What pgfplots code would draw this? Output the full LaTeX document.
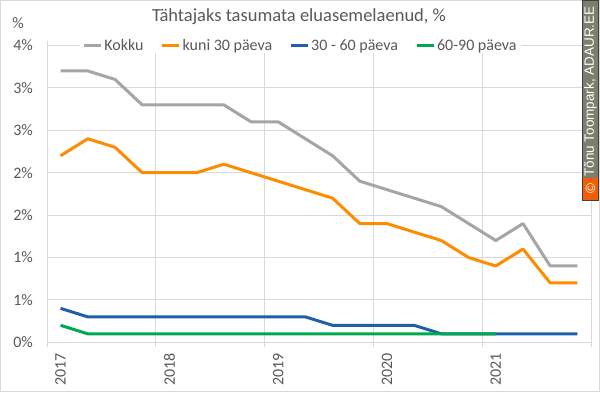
\documentclass[border=0pt]{standalone}
\usepackage{pgfplots}
\pgfplotsset{compat=1.18}
\usepackage{fontspec}
\setmainfont{Carlito}
\newfontfamily\wmfont{Liberation Sans}
\definecolor{txt}{HTML}{595959}
\definecolor{gridc}{HTML}{D9D9D9}
\definecolor{cgrey}{HTML}{A5A5A5}
\definecolor{corange}{HTML}{FF8C00}
\definecolor{cblue}{HTML}{1F5FAA}
\definecolor{cgreen}{HTML}{00A94F}
\definecolor{wmgrey}{HTML}{7E7E6E}
\definecolor{wmorange}{HTML}{F25C05}
\begin{document}
\begin{tikzpicture}[x=1pt,y=1pt]
\useasboundingbox (0,0) rectangle (600,392);
\fill[white] (0,0) rectangle (600,392);
\draw[gridc, line width=1pt] (0.5,0.5) rectangle (599.5,391.5);
\begin{axis}[
  at={(47pt,49.7pt)}, anchor=south west,
  scale only axis, width=544pt, height=296.8pt,
  xmin=-0.5, xmax=19.5, ymin=0, ymax=3.5,
  axis line style={draw=none},
  xtick={0,4,8,12,16},
  xticklabels={2017,2018,2019,2020,2021},
  minor xtick={-0.5,3.5,7.5,11.5,15.5,19.5},
  xminorgrids=true,
  minor grid style={gridc, line width=1pt},
  ytick={0,0.5,1,1.5,2,2.5,3,3.5},
  yticklabels={0\%,1\%,1\%,2\%,2\%,3\%,3\%,4\%},
  ymajorgrids=true,
  major grid style={gridc, line width=1pt},
  major tick length=0pt,
  minor tick length=5pt,
  tick align=outside,
  minor tick style={gridc, line width=1pt},
  major tick style={draw=none},
  ticklabel style={font=\fontsize{16}{18}\selectfont, text=txt},
  yticklabel style={anchor=east, inner sep=0pt, xshift=-14pt},
  xticklabel style={yshift=-11pt, rotate=90, anchor=east, inner sep=0pt},
  legend columns=4,
  legend style={at={(0.466,1)}, anchor=center, draw=none, fill=white,
    font=\fontsize{16}{18}\selectfont, text=txt,
    inner xsep=2pt, inner ysep=0pt,
    /tikz/every odd column/.style={column sep=0pt},
    /tikz/every even column/.append style={column sep=15pt},
    nodes={inner xsep=2pt, inner ysep=1pt}},
  legend image code/.code={\draw[#1] (0pt,0pt) -- (17pt,0pt);},
  every axis plot/.append style={line width=3pt, line join=round},
]
\addplot[cgrey] coordinates {(0,3.2)(1,3.2)(2,3.1)(3,2.8)(4,2.8)(5,2.8)(6,2.8)(7,2.6)(8,2.6)(9,2.4)(10,2.2)(11,1.9)(12,1.8)(13,1.7)(14,1.6)(15,1.4)(16,1.2)(17,1.4)(18,0.9)(19,0.9)};
\addlegendentry{Kokku}
\addplot[corange] coordinates {(0,2.2)(1,2.4)(2,2.3)(3,2.0)(4,2.0)(5,2.0)(6,2.1)(7,2.0)(8,1.9)(9,1.8)(10,1.7)(11,1.4)(12,1.4)(13,1.3)(14,1.2)(15,1.0)(16,0.9)(17,1.1)(18,0.7)(19,0.7)};
\addlegendentry{kuni 30 päeva}
\addplot[cblue] coordinates {(0,0.4)(1,0.3)(2,0.3)(3,0.3)(4,0.3)(5,0.3)(6,0.3)(7,0.3)(8,0.3)(9,0.3)(10,0.2)(11,0.2)(12,0.2)(13,0.2)(14,0.1)(15,0.1)(16,0.1)(17,0.1)(18,0.1)(19,0.1)};
\addlegendentry{30 - 60 päeva}
\addplot[cgreen] coordinates {(0,0.2)(1,0.1)(2,0.1)(3,0.1)(4,0.1)(5,0.1)(6,0.1)(7,0.1)(8,0.1)(9,0.1)(10,0.1)(11,0.1)(12,0.1)(13,0.1)(14,0.1)(15,0.1)(16,0.1)};
\addlegendentry{60-90 päeva}
\end{axis}
\node[text=txt, font=\fontsize{18.5}{20}\selectfont] at (299,375) {Tähtajaks tasumata eluasemelaenud, \%};
\node[text=txt, font=\fontsize{16}{18}\selectfont] at (18,369) {\%};
\fill[wmgrey] (582,192) rectangle (598,392);
\fill[wmorange] (582,192) rectangle (598,214);
\draw[black!75, line width=0.8pt] (582,192) rectangle (598,392);
\node[white, rotate=90, font=\wmfont\fontsize{13.5}{15}\selectfont, inner sep=0pt] at (590.5,300.5) {Tõnu Toompark, ADAUR.EE};
\node[white, rotate=90, font=\wmfont\fontsize{13.5}{15}\selectfont, inner sep=0pt] at (590.5,203) {©};
\end{tikzpicture}
\end{document}
